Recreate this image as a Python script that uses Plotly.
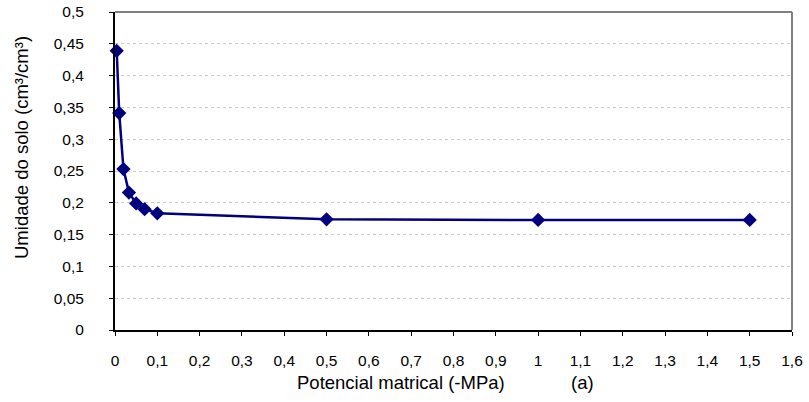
import plotly.graph_objects as go

potencial = [0.004, 0.01, 0.02, 0.033, 0.05, 0.07, 0.1, 0.5, 1.0, 1.5]
umidade = [0.439, 0.341, 0.253, 0.216, 0.199, 0.190, 0.1835, 0.174, 0.173, 0.173]

x_ticks = [0, 0.1, 0.2, 0.3, 0.4, 0.5, 0.6, 0.7, 0.8, 0.9, 1.0, 1.1, 1.2, 1.3, 1.4, 1.5, 1.6]
x_labels = ["0", "0,1", "0,2", "0,3", "0,4", "0,5", "0,6", "0,7", "0,8", "0,9",
            "1", "1,1", "1,2", "1,3", "1,4", "1,5", "1,6"]
y_ticks = [0, 0.05, 0.1, 0.15, 0.2, 0.25, 0.3, 0.35, 0.4, 0.45, 0.5]
y_labels = ["0", "0,05", "0,1", "0,15", "0,2", "0,25", "0,3", "0,35", "0,4", "0,45", "0,5"]

W, H = 809, 402
L, R, T, B = 115, 17, 12, 72
PW, PH = W - L - R, H - T - B


def px_x(x):
    return (x - L) / PW


def px_y(y):
    return (H - B - y) / PH


fig = go.Figure()
fig.add_trace(go.Scatter(
    x=potencial, y=umidade, mode="lines+markers",
    line=dict(color="#000080", width=2.5),
    marker=dict(symbol="diamond", size=11, color="#000080"),
    showlegend=False, cliponaxis=False,
))

font = dict(family="Liberation Sans, Arial, sans-serif", size=15.5, color="#000000")

fig.update_layout(
    width=W, height=H,
    margin=dict(l=L, r=R, t=T, b=B, autoexpand=False),
    paper_bgcolor="white", plot_bgcolor="white",
    font=font,
    xaxis=dict(
        range=[0, 1.6], tickvals=x_ticks, ticktext=x_labels, tickangle=0,
        showgrid=False, zeroline=False, automargin=False,
        showline=True, linecolor="#000000", linewidth=2,
        ticks="outside", ticklen=4, tickcolor="#000000", tickwidth=1,
        ticklabelstandoff=11,
    ),
    yaxis=dict(
        range=[0, 0.5], tickvals=y_ticks, ticktext=y_labels,
        showgrid=True, gridcolor="#c8c8c8", griddash="dot", gridwidth=1,
        zeroline=False, automargin=False,
        showline=True, linecolor="#000000", linewidth=2,
        ticks="outside", ticklen=4, tickcolor="#000000", tickwidth=1,
        ticklabelstandoff=22,
    ),
    shapes=[
        dict(type="line", xref="paper", yref="paper", x0=0, x1=1, y0=1, y1=1,
             line=dict(color="#808080", width=2)),
        dict(type="line", xref="paper", yref="paper", x0=1, x1=1, y0=0, y1=1,
             line=dict(color="#808080", width=2)),
    ],
    annotations=[
        dict(text="Potencial matrical (-MPa)", xref="paper", yref="paper",
             x=px_x(401), y=px_y(382), xanchor="center", yanchor="middle",
             showarrow=False, font=dict(size=18.5)),
        dict(text="(a)", xref="paper", yref="paper",
             x=px_x(582), y=px_y(382), xanchor="center", yanchor="middle",
             showarrow=False, font=dict(size=18.5)),
        dict(text="Umidade do solo (cm³/cm³)", xref="paper", yref="paper",
             x=px_x(21), y=px_y(148), xanchor="center", yanchor="middle",
             textangle=-90, showarrow=False, font=dict(size=18.5)),
    ],
)

fig.write_html("out.html", config={"displayModeBar": False},
               post_script="document.body.style.margin='0';document.body.style.padding='0';")
